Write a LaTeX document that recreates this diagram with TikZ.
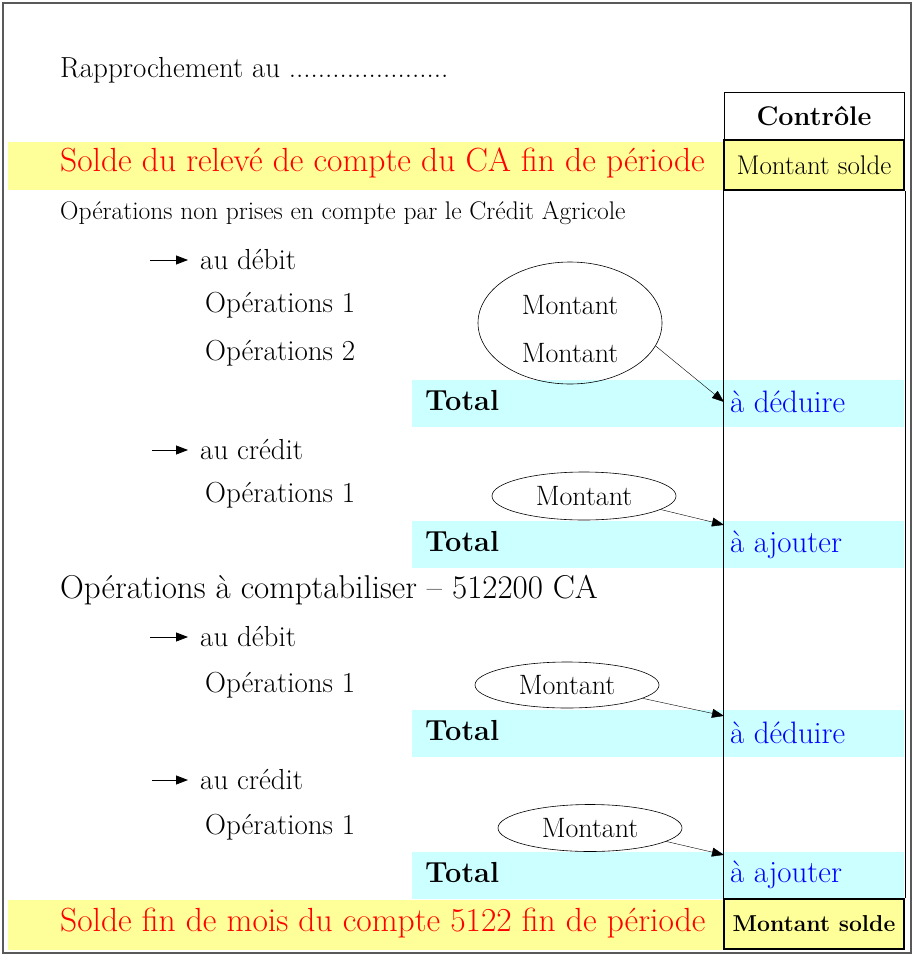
\documentclass[tikz,border=0pt]{standalone}
\usepackage{tikz}
\usetikzlibrary{arrows.meta,shapes.geometric}
\definecolor{bandyellow}{HTML}{FFFF99}
\definecolor{bandcyan}{HTML}{CCFFFF}

\begin{document}
\begin{tikzpicture}[x=1pt,y=-1pt,
  hand/.style={anchor=west,inner sep=0pt,font=\fontsize{29}{29}\selectfont},
  small/.style={anchor=west,inner sep=0pt,font=\fontsize{25.5}{25.5}\selectfont},
  big/.style={anchor=west,inner sep=0pt,text=red,font=\fontsize{33.5}{33.5}\selectfont},
  total/.style={anchor=west,inner sep=0pt,font=\bfseries\fontsize{29}{29}\selectfont},
  ctrlbox/.style={draw,minimum width=180,minimum height=48,inner sep=0pt,font=\bfseries\fontsize{27}{27}\selectfont},
  soldebox/.style={draw,minimum width=180,minimum height=50,inner sep=0pt,line width=2.5pt,fill=bandyellow,font=\fontsize{27}{27}\selectfont},
  result/.style={anchor=west,inner sep=6pt,text=blue,font=\fontsize{31}{31}\selectfont},
  amount/.style={draw,ellipse,minimum width=184,inner sep=0pt,semithick,font=\fontsize{28}{28}\selectfont},
  link/.style={-{Triangle[length=12,width=9]},thin},
  bullet/.style={-{Triangle[length=12,width=9]},thick,shorten >=12pt}]
\useasboundingbox (0,0) rectangle (915,956);
\draw[gray!70!black,line width=1.2] (3,3) rectangle (911,953);

% bands
\fill[bandyellow] (8,142) rectangle (724,190);
\fill[bandyellow] (8,900) rectangle (724,950);
\foreach \y in {380,521,710,852} {
    \fill[bandcyan] (412,\y) rectangle (904,\y+47);
}

% title
\node[hand] (title) at (60,70) {Rapprochement au ......................};
\node[ctrlbox] (ctrl) at (814,116) {Contrôle};

% opening balance
\node[big] (solde1txt) at (60,163) {Solde du relevé de compte du CA fin de période};
\node[soldebox] (solde1) at (814,165) {Montant solde};

% operations not yet taken into account by the bank
\node[small] (nonprises) at (60,213) {Opérations non prises en compte par le Crédit Agricole};

\coordinate (b1) at (150,260);
\node[hand] (deb1) at (200,260) {au débit};
\draw[bullet] (b1) -- (deb1.west);
\node[hand] (op11) at (205,305) {Opérations 1};
\node[hand] (op12) at (205,353) {Opérations 2};
\node[amount,minimum height=122] (e1) at (570,323) {};
\node[amount,draw=none,anchor=center] (m11) at (570,305) {Montant};
\node[amount,draw=none,anchor=center] (m12) at (570,353) {Montant};
\node[total] (tot1) at (425,401) {Total};
\node[result] (ded1) at (724,402) {à déduire};
\draw[link] (e1.-15) -- (ded1.west);

\coordinate (b2) at (152,450);
\node[hand] (cre1) at (200,450) {au crédit};
\draw[bullet] (b2) -- (cre1.west);
\node[hand] (op21) at (205,495) {Opérations 1};
\node[amount,minimum height=48] (e2) at (584,496) {Montant};
\node[total] (tot2) at (425,542) {Total};
\node[result] (ajo1) at (724,545) {à ajouter};
\draw[link] (e2.-10) -- (ajo1.north west);

% operations to record in the books
\node[hand,font=\fontsize{33}{33}\selectfont] (compta) at (60,590) {Opérations à comptabiliser -- 512200 CA};

\coordinate (b3) at (150,637);
\node[hand] (deb2) at (200,637) {au débit};
\draw[bullet] (b3) -- (deb2.west);
\node[hand] (op31) at (205,685) {Opérations 1};
\node[amount,minimum height=46] (e3) at (567,685) {Montant};
\node[total] (tot3) at (425,731) {Total};
\node[result] (ded2) at (724,733) {à déduire};
\draw[link] (e3.-10) -- (ded2.north west);

\coordinate (b4) at (152,780);
\node[hand] (cre2) at (200,780) {au crédit};
\draw[bullet] (b4) -- (cre2.west);
\node[hand] (op41) at (205,827) {Opérations 1};
\node[amount,minimum height=47] (e4) at (590,828) {Montant};
\node[total] (tot4) at (425,873) {Total};
\node[result] (ajo2) at (724,875) {à ajouter};
\draw[link] (e4.-10) -- (ajo2.north west);

% closing balance
\node[big] (solde2txt) at (60,923) {Solde fin de mois du compte 5122 fin de période};
\node[soldebox,font=\bfseries\fontsize{23}{23}\selectfont] (solde2) at (814,924) {Montant solde};

% control column
\draw (solde1.south west) -- (solde2.north west);
\draw (solde1.south east) -- (solde2.north east);
\end{tikzpicture}
\end{document}
